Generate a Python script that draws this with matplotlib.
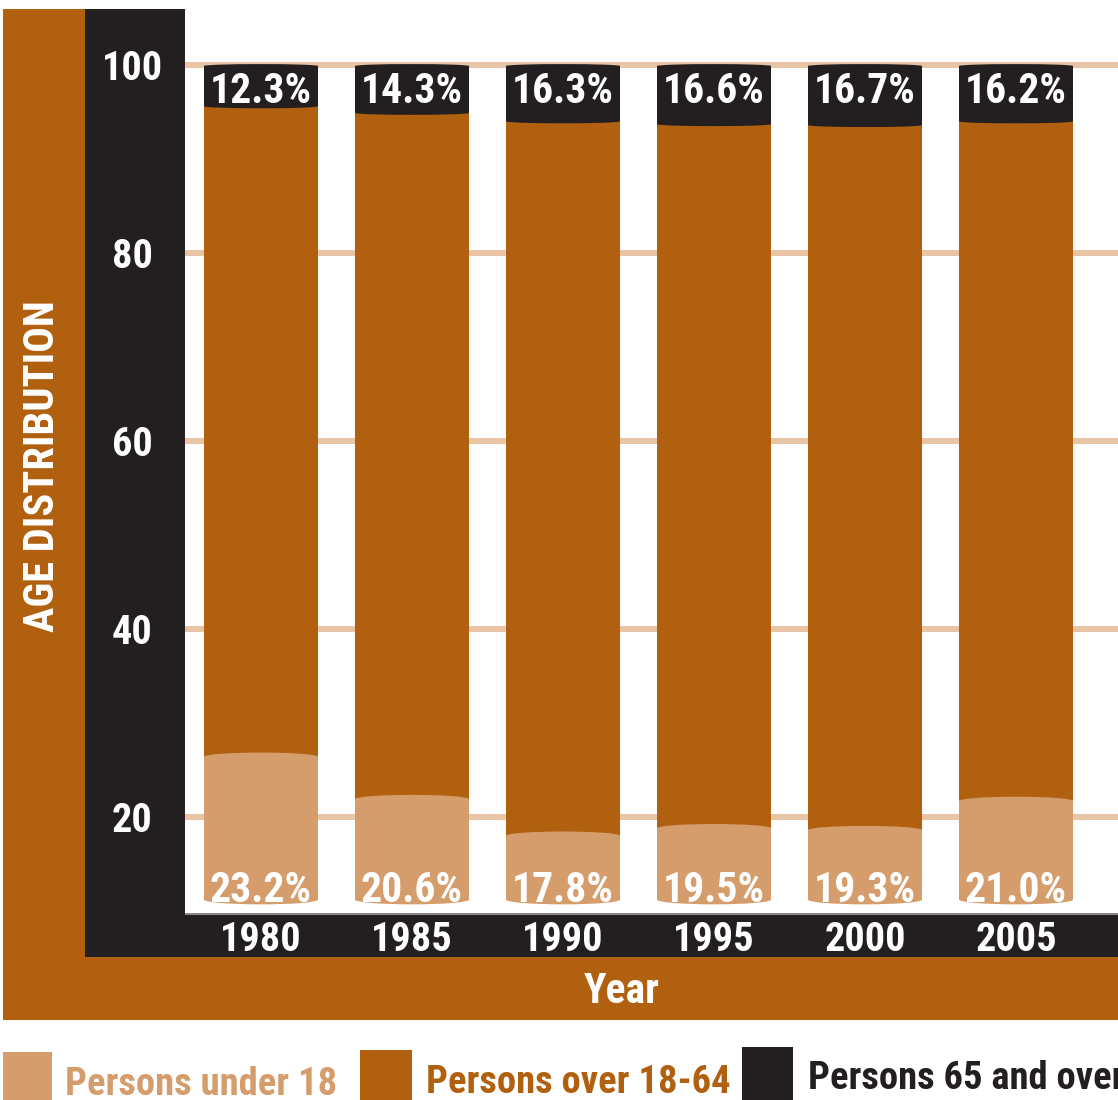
import matplotlib.pyplot as plt
from matplotlib.patches import Rectangle, Ellipse
import matplotlib.transforms as mtransforms

plt.rcParams['font.family'] = ['Roboto Condensed', 'Liberation Sans', 'DejaVu Sans']
plt.rcParams['font.weight'] = 'bold'

# data
years = ['1980', '1985', '1990', '1995', '2000', '2005']
under18_labels = ['23.2%', '20.6%', '17.8%', '19.5%', '19.3%', '21.0%']
over65_labels = ['12.3%', '14.3%', '16.3%', '16.6%', '16.7%', '16.2%']
# segment edges as drawn (axis units; the original art is not to scale)
bar_base = 11.2
under18_top = [26.4, 21.9, 18.0, 18.8, 18.6, 21.7]
over65_bottom = [95.6, 94.9, 94.0, 93.7, 93.6, 94.0]
bar_top = 99.9
yticks = [20, 40, 60, 80, 100]
legend_names = ['Persons under 18', 'Persons over 18-64', 'Persons 65 and over']

TAN = '#D59C6C'
BROWN = '#B0600F'
BLACK = '#231F20'
GRID = '#E8C5A5'

W, H = 1118, 1100
fig = plt.figure(figsize=(W / 100, H / 100), dpi=100)


def fx(px):
    return px / W


def fy(py):
    return 1 - py / H


def frame_rect(x0, y0, x1, y1, color):
    fig.add_artist(Rectangle((fx(x0), fy(y1)), fx(x1) - fx(x0), fy(y0) - fy(y1),
                             transform=fig.transFigure, facecolor=color,
                             edgecolor='none', zorder=0))


# frame around the plot
frame_rect(3, 9, 85, 1020, BROWN)
frame_rect(3, 957, W, 1020, BROWN)
frame_rect(85, 9, 185, 957, BLACK)
frame_rect(85, 914, W, 957, BLACK)
frame_rect(185, 913, W, 915, '#8A8A8A')

ax = fig.add_axes([fx(185), fy(913), 1 - fx(185), fy(9) - fy(913)])
ax.set_xlim(-0.503, 5.675)
ax.set_ylim(9.78, 105.96)
for s in ax.spines.values():
    s.set_visible(False)
ax.set_xticks([])

for t in yticks:
    ax.axhline(t, color=GRID, lw=4.3, zorder=1)

x = list(range(len(years)))
bw = 0.755
h_under = [u - bar_base for u in under18_top]
h_mid = [o - u for o, u in zip(over65_bottom, under18_top)]
h_old = [bar_top - o for o in over65_bottom]

ax.bar(x, h_under, bw, bottom=bar_base, color=TAN, zorder=2)
ax.bar(x, h_mid, bw, bottom=under18_top, color=BROWN, zorder=2)
ax.bar(x, h_old, bw, bottom=over65_bottom, color=BLACK, zorder=2)

# rounded caps
for i in x:
    ax.add_patch(Ellipse((i, bar_base), bw, 1.0, facecolor=TAN, edgecolor='none', zorder=3))
    ax.add_patch(Ellipse((i, under18_top[i]), bw, 0.9, facecolor=TAN, edgecolor='none', zorder=3))
    ax.add_patch(Ellipse((i, over65_bottom[i]), bw, 0.4, facecolor=BLACK, edgecolor='none', zorder=3))
    ax.add_patch(Ellipse((i, bar_top), bw, 0.4, facecolor=BLACK, edgecolor='none', zorder=3))

for i in x:
    ax.text(i, 95.96, over65_labels[i], ha='center', va='baseline',
            color='white', fontsize=30, zorder=4)
    ax.text(i, 10.96, under18_labels[i], ha='center', va='baseline',
            color='white', fontsize=30, zorder=4)

trans = mtransforms.blended_transform_factory(ax.transData, ax.transAxes)
for i in x:
    ax.text(i, -(951 - 913) / 904, years[i], transform=trans, ha='center',
            va='baseline', color='white', fontsize=29, clip_on=False)

ax.set_yticks(yticks, [str(t) for t in yticks])
ax.tick_params(axis='y', length=0, pad=38, labelsize=29, labelcolor='white')
for lab in ax.get_yticklabels():
    lab.set_horizontalalignment('center')
    lab.set_fontweight('bold')

fig.text(fx(622), fy(1003), 'Year', ha='center', va='baseline',
         color='white', fontsize=30)
fig.text(fx(42), fy(466), 'AGE DISTRIBUTION', rotation=90, ha='center',
         va='center', color='white', fontsize=30.5)

# legend
leg_boxes = [(3, 52, 1052), (360, 412, 1050), (742, 793, 1047)]
leg_text = [(65, 1095, TAN), (426, 1093, BROWN), (808, 1089, BLACK)]
leg_colors = [TAN, BROWN, BLACK]
for (x0, x1, y0), (tx, ty, tc), c, name in zip(leg_boxes, leg_text, leg_colors, legend_names):
    frame_rect(x0, y0, x1, H, c)
    fig.text(fx(tx), fy(ty), name, ha='left', va='baseline', color=tc, fontsize=27.8)

fig.savefig('out.png', dpi=100)
